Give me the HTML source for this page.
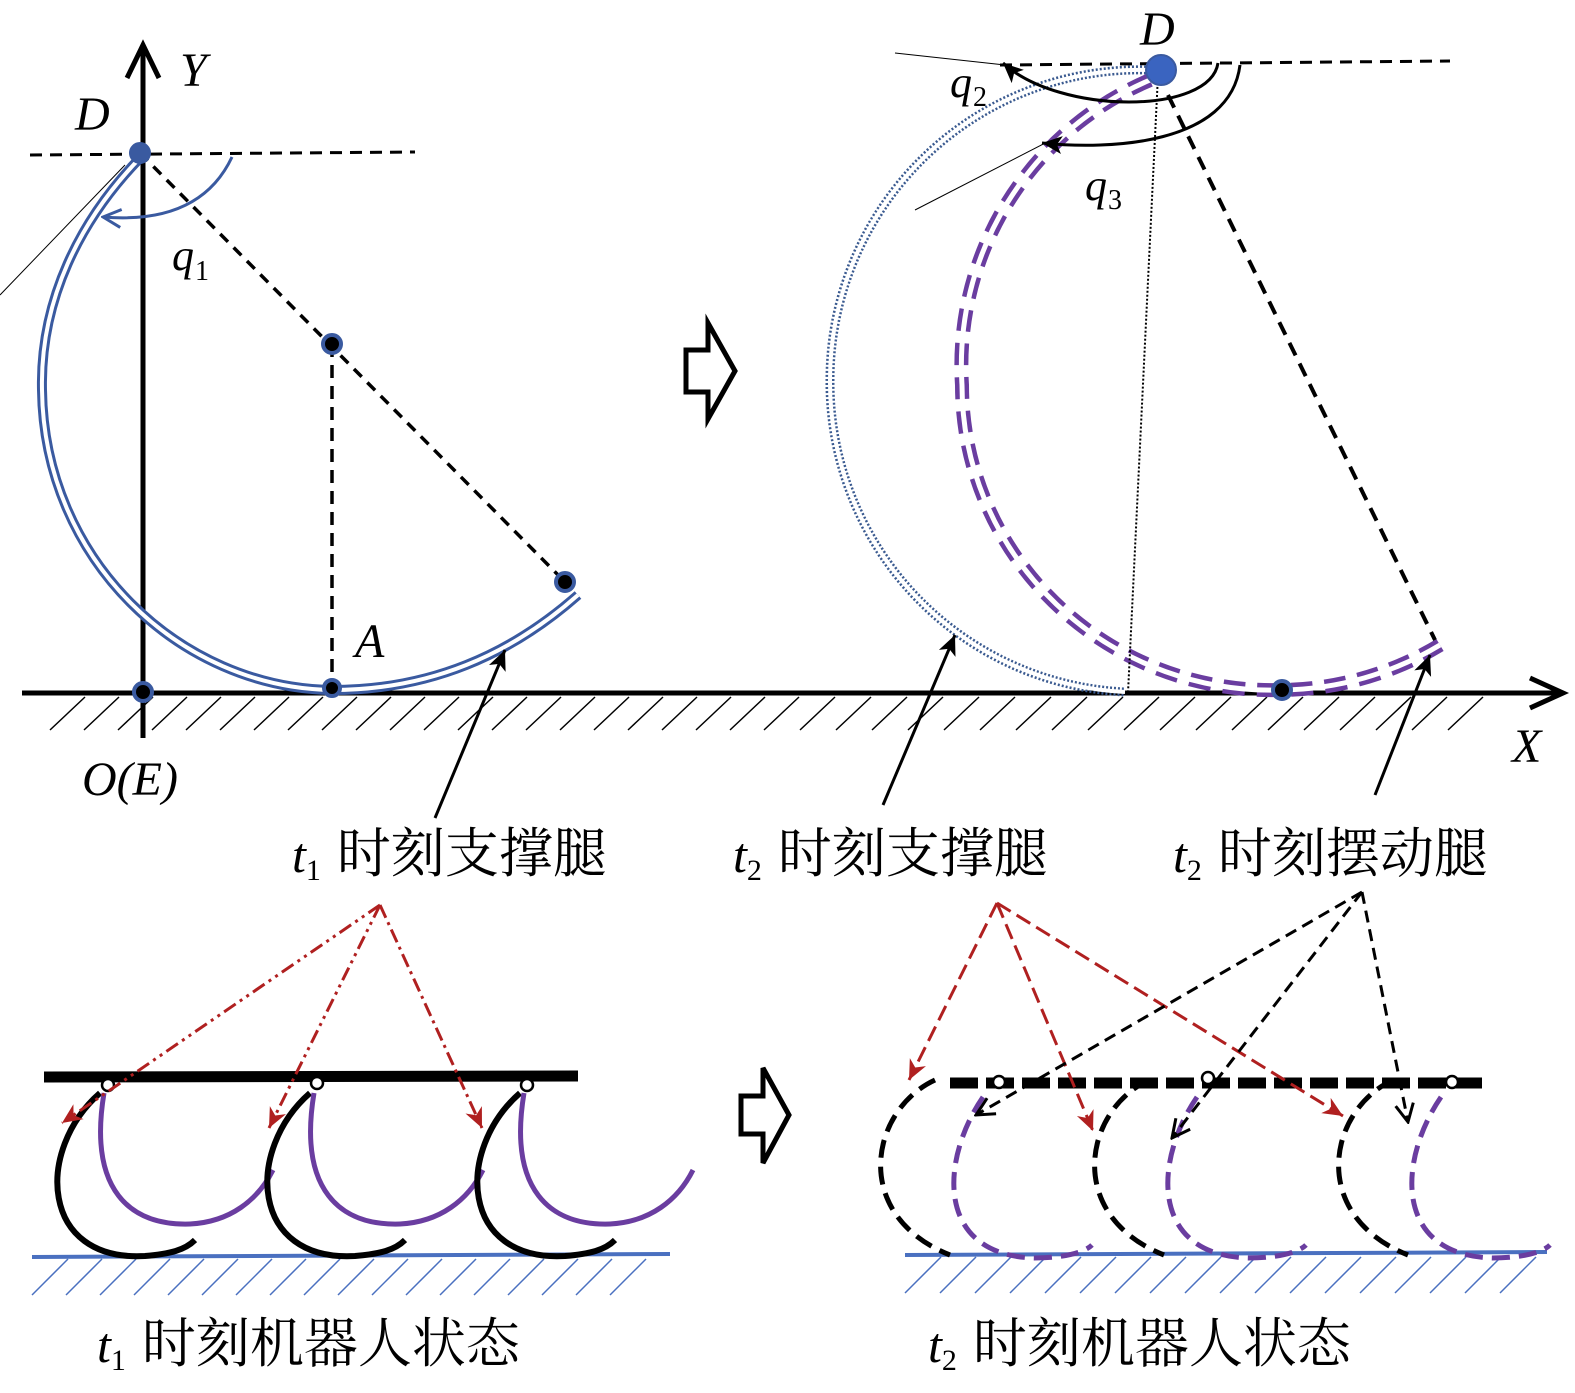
<!DOCTYPE html>
<html><head><meta charset="utf-8"><style>
html,body{margin:0;padding:0;background:#fff}
svg{display:block}
.m{font-family:"Liberation Serif",serif;font-style:italic}
.c{font-family:"Liberation Serif","Noto Serif CJK SC","Noto Sans CJK SC",serif}
</style></head><body>
<svg width="1575" height="1393" viewBox="0 0 1575 1393" xmlns="http://www.w3.org/2000/svg">
<defs>
<marker id="abig" markerWidth="22" markerHeight="22" refX="20" refY="11" orient="auto" markerUnits="userSpaceOnUse"><path d="M0,2 L20,11 L0,20 L5,11 z" fill="#000"/></marker>
<marker id="ablue" markerWidth="22" markerHeight="22" refX="20" refY="11" orient="auto" markerUnits="userSpaceOnUse"><path d="M2,2 L20,11 L2,20" fill="none" stroke="#3a5aa0" stroke-width="3"/></marker>
<marker id="ared" markerWidth="22" markerHeight="22" refX="20" refY="11" orient="auto" markerUnits="userSpaceOnUse"><path d="M0,2 L20,11 L0,20 L6,11 z" fill="#b02020"/></marker>
<marker id="ak" markerWidth="22" markerHeight="22" refX="20" refY="11" orient="auto" markerUnits="userSpaceOnUse"><path d="M2,2 L20,11 L2,20" fill="none" stroke="#000" stroke-width="3"/></marker>
</defs>

<!-- ground top -->
<line x1="22" y1="693" x2="1560" y2="693" stroke="#000" stroke-width="5"/>
<path d="M1530,678 L1563,693 L1530,708" fill="none" stroke="#000" stroke-width="5"/>
<g stroke="#000" stroke-width="1.5">
<line x1="50" y1="730" x2="85" y2="697"/><line x1="84" y1="730" x2="119" y2="697"/><line x1="118" y1="730" x2="153" y2="697"/><line x1="152" y1="730" x2="187" y2="697"/><line x1="186" y1="730" x2="221" y2="697"/><line x1="220" y1="730" x2="255" y2="697"/><line x1="254" y1="730" x2="289" y2="697"/><line x1="288" y1="730" x2="323" y2="697"/><line x1="322" y1="730" x2="357" y2="697"/><line x1="356" y1="730" x2="391" y2="697"/><line x1="390" y1="730" x2="425" y2="697"/><line x1="424" y1="730" x2="459" y2="697"/><line x1="458" y1="730" x2="493" y2="697"/><line x1="492" y1="730" x2="527" y2="697"/><line x1="526" y1="730" x2="561" y2="697"/><line x1="560" y1="730" x2="595" y2="697"/><line x1="594" y1="730" x2="629" y2="697"/><line x1="628" y1="730" x2="663" y2="697"/><line x1="662" y1="730" x2="697" y2="697"/><line x1="696" y1="730" x2="731" y2="697"/><line x1="730" y1="730" x2="765" y2="697"/><line x1="764" y1="730" x2="799" y2="697"/><line x1="800" y1="730" x2="835" y2="697"/><line x1="836" y1="730" x2="871" y2="697"/><line x1="872" y1="730" x2="907" y2="697"/><line x1="908" y1="730" x2="943" y2="697"/><line x1="944" y1="730" x2="979" y2="697"/><line x1="980" y1="730" x2="1015" y2="697"/><line x1="1016" y1="730" x2="1051" y2="697"/><line x1="1052" y1="730" x2="1087" y2="697"/><line x1="1088" y1="730" x2="1123" y2="697"/><line x1="1124" y1="730" x2="1159" y2="697"/><line x1="1160" y1="730" x2="1195" y2="697"/><line x1="1196" y1="730" x2="1231" y2="697"/><line x1="1232" y1="730" x2="1267" y2="697"/><line x1="1268" y1="730" x2="1303" y2="697"/><line x1="1304" y1="730" x2="1339" y2="697"/><line x1="1340" y1="730" x2="1375" y2="697"/><line x1="1376" y1="730" x2="1411" y2="697"/><line x1="1412" y1="730" x2="1447" y2="697"/><line x1="1448" y1="730" x2="1483" y2="697"/>
</g>

<!-- Y axis -->
<line x1="143" y1="48" x2="143" y2="738" stroke="#000" stroke-width="5"/>
<path d="M127,78 L143,45 L159,78" fill="none" stroke="#000" stroke-width="5"/>
<text x="180" y="86" class="m" font-size="48">Y</text>
<text x="75" y="130" class="m" font-size="48">D</text>
<text x="82" y="795" class="m" font-size="48">O(E)</text>
<line x1="30" y1="155" x2="415" y2="152" stroke="#000" stroke-width="3" stroke-dasharray="12 8"/>
<line x1="0" y1="295" x2="125" y2="165" stroke="#000" stroke-width="1"/>
<!-- t1 leg -->
<path id="t1leg" d="M140,158 C80,220 40,300 42,390 C44,560 180,688 332,690 C430,690 510,655 578,595" fill="none" stroke="#3a5aa0" stroke-width="10"/>
<path d="M140,158 C80,220 40,300 42,390 C44,560 180,688 332,690 C430,690 510,655 578,595" fill="none" stroke="#fff" stroke-width="4"/>
<line x1="140" y1="153" x2="565" y2="582" stroke="#000" stroke-width="3.5" stroke-dasharray="11 8"/>
<line x1="332" y1="344" x2="332" y2="688" stroke="#000" stroke-width="3.5" stroke-dasharray="13 8"/>
<path d="M232,157 Q200,225 103,217" fill="none" stroke="#3a5aa0" stroke-width="3" marker-end="url(#ablue)"/>
<text x="172" y="270" class="m" font-size="44">q</text><text x="195" y="280" font-family="Liberation Serif" font-size="28">1</text>
<text x="355" y="657" class="m" font-size="48">A</text>
<g fill="#000" stroke="#3a5aa0" stroke-width="4">
<circle cx="140" cy="153" r="9" fill="#3a5aa0"/><circle cx="332" cy="344" r="9"/><circle cx="565" cy="582" r="9"/><circle cx="143" cy="692" r="9"/><circle cx="332" cy="688" r="8"/>
</g>
<line x1="435" y1="818" x2="505" y2="650" stroke="#000" stroke-width="3" marker-end="url(#abig)"/>

<!-- hollow arrows -->
<path d="M686,350 L708,350 L708,323 L735,371 L708,419 L708,392 L686,392 Z" fill="#fff" stroke="#000" stroke-width="5"/>
<path d="M741,1096 L763,1096 L763,1068 L789,1115 L763,1163 L763,1134 L741,1134 Z" fill="#fff" stroke="#000" stroke-width="5"/>

<!-- right top -->
<text x="1140" y="45" class="m" font-size="48">D</text>
<line x1="1000" y1="65" x2="1450" y2="61" stroke="#000" stroke-width="3" stroke-dasharray="12 8"/>
<line x1="895" y1="53" x2="1005" y2="65" stroke="#000" stroke-width="1"/>
<line x1="915" y1="210" x2="1090" y2="120" stroke="#000" stroke-width="1"/>
<path d="M1150,70 A310,310 0 0 0 830,380 A310,310 0 0 0 1125,692" fill="none" stroke="#3a5a90" stroke-width="9" stroke-dasharray="2 2"/>
<path d="M1150,70 A310,310 0 0 0 830,380 A310,310 0 0 0 1125,692" fill="none" stroke="#fff" stroke-width="4"/>
<path d="M1150,80 A310,310 0 0 0 962,385 A310,305 0 0 0 1282,690 A310,305 0 0 0 1440,645" fill="none" stroke="#6a3da0" stroke-width="14" stroke-dasharray="22 12"/>
<path d="M1150,80 A310,310 0 0 0 962,385 A310,305 0 0 0 1282,690 A310,305 0 0 0 1440,645" fill="none" stroke="#fff" stroke-width="5"/>
<line x1="1158" y1="75" x2="1128" y2="693" stroke="#000" stroke-width="2" stroke-dasharray="2 2"/>
<line x1="1168" y1="95" x2="1435" y2="640" stroke="#000" stroke-width="4" stroke-dasharray="14 9"/>
<path d="M1218,63 C1210,115 1060,115 1003,63" fill="none" stroke="#000" stroke-width="3" marker-end="url(#abig)"/>
<path d="M1240,65 C1230,145 1110,150 1042,143" fill="none" stroke="#000" stroke-width="3" marker-end="url(#abig)"/>
<circle cx="1161" cy="70" r="15" fill="#3a64c0" stroke="#3a5aa0" stroke-width="2"/>
<circle cx="1282" cy="690" r="9" fill="#000" stroke="#3a5aa0" stroke-width="4"/>
<text x="950" y="97" class="m" font-size="44">q</text><text x="973" y="106" font-family="Liberation Serif" font-size="28">2</text>
<text x="1085" y="200" class="m" font-size="44">q</text><text x="1108" y="209" font-family="Liberation Serif" font-size="28">3</text>
<text x="1512" y="762" class="m" font-size="48">X</text>
<line x1="883" y1="805" x2="955" y2="635" stroke="#000" stroke-width="3" marker-end="url(#abig)"/>
<line x1="1375" y1="795" x2="1430" y2="655" stroke="#000" stroke-width="3" marker-end="url(#abig)"/>

<!-- labels -->
<g font-size="50">
<text x="292" y="872"><tspan class="m">t</tspan><tspan font-family="Liberation Serif" font-size="30" dy="8">1</tspan><tspan class="c" font-size="54" dy="-8" dx="16">时刻支撑腿</tspan></text>
<text x="733" y="872"><tspan class="m">t</tspan><tspan font-family="Liberation Serif" font-size="30" dy="8">2</tspan><tspan class="c" font-size="54" dy="-8" dx="16">时刻支撑腿</tspan></text>
<text x="1173" y="872"><tspan class="m">t</tspan><tspan font-family="Liberation Serif" font-size="30" dy="8">2</tspan><tspan class="c" font-size="54" dy="-8" dx="16">时刻摆动腿</tspan></text>
<text x="97" y="1362"><tspan class="m">t</tspan><tspan font-family="Liberation Serif" font-size="30" dy="8">1</tspan><tspan class="c" font-size="54" dy="-8" dx="16">时刻机器人状态</tspan></text>
<text x="928" y="1362"><tspan class="m">t</tspan><tspan font-family="Liberation Serif" font-size="30" dy="8">2</tspan><tspan class="c" font-size="54" dy="-8" dx="16">时刻机器人状态</tspan></text>
</g>

<!-- bottom left -->
<line x1="32" y1="1257" x2="670" y2="1254" stroke="#4a70c0" stroke-width="4"/>
<g stroke="#4a70c0" stroke-width="1.5">
<line x1="32" y1="1295" x2="68" y2="1259"/><line x1="66" y1="1295" x2="102" y2="1259"/><line x1="100" y1="1295" x2="136" y2="1259"/><line x1="134" y1="1295" x2="170" y2="1259"/><line x1="168" y1="1295" x2="204" y2="1259"/><line x1="202" y1="1295" x2="238" y2="1259"/><line x1="236" y1="1295" x2="272" y2="1259"/><line x1="270" y1="1295" x2="306" y2="1259"/><line x1="304" y1="1295" x2="340" y2="1259"/><line x1="338" y1="1295" x2="374" y2="1259"/><line x1="372" y1="1295" x2="408" y2="1259"/><line x1="406" y1="1295" x2="442" y2="1259"/><line x1="440" y1="1295" x2="476" y2="1259"/><line x1="474" y1="1295" x2="510" y2="1259"/><line x1="508" y1="1295" x2="544" y2="1259"/><line x1="542" y1="1295" x2="578" y2="1259"/><line x1="576" y1="1295" x2="612" y2="1259"/><line x1="610" y1="1295" x2="646" y2="1259"/>
</g>
<g fill="none" stroke-width="6">
<g id="L1">
<path d="M100,1093 C35,1150 40,1262 145,1256 C170,1254 185,1250 195,1240" stroke="#000"/>
<path d="M104,1093 C88,1190 130,1226 190,1224 C230,1222 258,1200 273,1170" stroke="#6a3da0" stroke-width="5"/>
</g>
<use href="#L1" x="210"/>
<use href="#L1" x="420"/>
</g>
<line x1="44" y1="1077" x2="578" y2="1076" stroke="#000" stroke-width="11"/>
<g fill="#fff" stroke="#000" stroke-width="2.5"><circle cx="108" cy="1085" r="6"/><circle cx="317" cy="1083" r="6"/><circle cx="527" cy="1085" r="6"/></g>
<g stroke="#b02020" stroke-width="3" fill="none">
<line x1="380" y1="905" x2="62" y2="1123" stroke-dasharray="14 5 3 5 3 5" marker-end="url(#ared)"/>
<line x1="380" y1="905" x2="269" y2="1128" stroke-dasharray="14 5 3 5 3 5" marker-end="url(#ared)"/>
<line x1="380" y1="905" x2="482" y2="1128" stroke-dasharray="14 5 3 5" marker-end="url(#ared)"/>
</g>

<!-- bottom right -->
<line x1="905" y1="1255" x2="1547" y2="1252" stroke="#4a70c0" stroke-width="4"/>
<g stroke="#4a70c0" stroke-width="1.5">
<line x1="905" y1="1293" x2="941" y2="1257"/><line x1="940" y1="1293" x2="976" y2="1257"/><line x1="975" y1="1293" x2="1011" y2="1257"/><line x1="1010" y1="1293" x2="1046" y2="1257"/><line x1="1045" y1="1293" x2="1081" y2="1257"/><line x1="1080" y1="1293" x2="1116" y2="1257"/><line x1="1115" y1="1293" x2="1151" y2="1257"/><line x1="1150" y1="1293" x2="1186" y2="1257"/><line x1="1185" y1="1293" x2="1221" y2="1257"/><line x1="1220" y1="1293" x2="1256" y2="1257"/><line x1="1255" y1="1293" x2="1291" y2="1257"/><line x1="1290" y1="1293" x2="1326" y2="1257"/><line x1="1325" y1="1293" x2="1361" y2="1257"/><line x1="1360" y1="1293" x2="1396" y2="1257"/><line x1="1395" y1="1293" x2="1431" y2="1257"/><line x1="1430" y1="1293" x2="1466" y2="1257"/><line x1="1465" y1="1293" x2="1501" y2="1257"/><line x1="1500" y1="1293" x2="1536" y2="1257"/>
</g>
<g fill="none" stroke-width="5">
<g id="R1">
<path d="M935,1080 C870,1110 850,1215 950,1255" stroke="#000" stroke-dasharray="18 9"/>
<path d="M983,1097 C940,1160 935,1255 1034,1258 C1065,1258 1085,1252 1092,1245" stroke="#6a3da0" stroke-dasharray="18 9"/>
</g>
<use href="#R1" x="214"/>
<use href="#R1" x="458"/>
</g>
<line x1="950" y1="1083" x2="1488" y2="1083" stroke="#000" stroke-width="11" stroke-dasharray="28 8"/>
<g fill="#fff" stroke="#000" stroke-width="2.5"><circle cx="999" cy="1082" r="6"/><circle cx="1208" cy="1078" r="6"/><circle cx="1452" cy="1082" r="6"/></g>
<g stroke="#b02020" stroke-width="3" fill="none" stroke-dasharray="16 7">
<line x1="997" y1="903" x2="909" y2="1080" marker-end="url(#ared)"/>
<line x1="997" y1="903" x2="1093" y2="1131" marker-end="url(#ared)"/>
<line x1="997" y1="903" x2="1343" y2="1116" marker-end="url(#ared)"/>
</g>
<g stroke="#000" stroke-width="3" fill="none" stroke-dasharray="12 7">
<line x1="1362" y1="892" x2="976" y2="1115" marker-end="url(#ak)"/>
<line x1="1362" y1="892" x2="1172" y2="1138" marker-end="url(#ak)"/>
<line x1="1362" y1="892" x2="1408" y2="1122" marker-end="url(#ak)"/>
</g>
</svg>
</body></html>
